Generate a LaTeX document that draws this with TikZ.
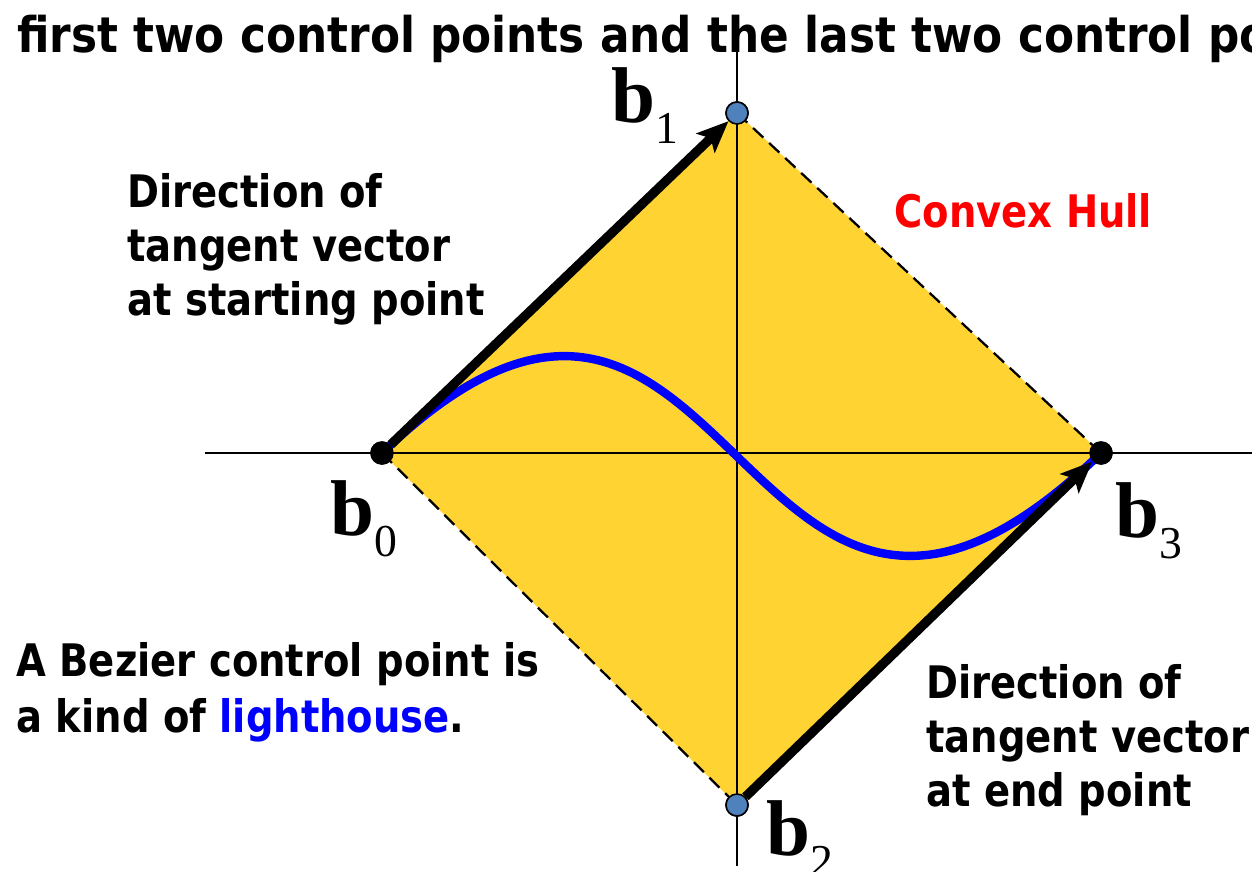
\documentclass[tikz,border=0pt]{standalone}
\usepackage{fontspec}
\usetikzlibrary{arrows.meta,positioning}
\setmainfont{Liberation Serif}
\newfontfamily\slidefont[FakeStretch=0.86]{DejaVu Sans}
\newfontfamily\headfont[FakeStretch=0.89]{DejaVu Sans}
\definecolor{hullyellow}{RGB}{255,212,50}
\definecolor{pointblue}{RGB}{79,129,189}
\definecolor{curveblue}{RGB}{0,0,255}
\definecolor{hullred}{RGB}{255,0,0}
\newcommand{\bvec}[1]{{\fontsize{45}{45}\selectfont\bfseries b}\raisebox{-12pt}{\fontsize{26}{26}\selectfont #1}}
\newlength{\linegap}
\setlength{\linegap}{1.09cm}

\begin{document}
\begin{tikzpicture}[x=0.02cm, y=-0.02cm,
	note/.style={anchor=base west, inner sep=0pt, font=\slidefont\bfseries\fontsize{25.5}{30}\selectfont},
	endpt/.style={circle, fill=black, inner sep=0pt, minimum size=0.47cm},
	ctrlpt/.style={circle, draw=black, line width=0.9pt, fill=pointblue, inner sep=0pt, minimum size=0.44cm},
	blabel/.style={anchor=base west, inner sep=0pt},
	tangent/.style={line width=5.3pt, -{Stealth[length=18pt, width=15pt, inset=4pt]}},
	hulledge/.style={line width=1.3pt, dash pattern=on 8pt off 4.5pt},
	axis/.style={line width=1.1pt}]
	\useasboundingbox (0,0) rectangle (1252,872);
	\clip (0,0) rectangle (1252,872);

	% Define nodes
	\node (b0) [endpt] at (382,453) {};
	\node (b1) [ctrlpt] at (737,113) {};
	\node (b2) [ctrlpt] at (737,805) {};
	\node (b3) [endpt] at (1101,453) {};
	\coordinate (xl) at (205,453);
	\coordinate (xr) at (1252,453);
	\coordinate (yt) at (737,28);
	\coordinate (yb) at (737,866);

	% Convex hull and axes
	\fill[hullyellow] (b0.center) -- (b1.center) -- (b3.center) -- (b2.center) -- cycle;
	\draw[axis] (xl) -- (xr);
	\draw[axis] (yt) -- (yb);
	\draw[hulledge] (b1.center) -- (b3.center);
	\draw[hulledge] (b0.center) -- (b2.center);

	% Bezier curve
	\draw[curveblue, line width=4.8pt] (b0.center) .. controls (b1.center) and (b2.center) .. (b3.center);

	% Tangent arrows
	\draw[tangent] (b0) -- (b1);
	\draw[tangent] (b2) -- (b3);

	% Redraw points on top
	\node[endpt] at (b0) {};
	\node[ctrlpt] at (b1) {};
	\node[ctrlpt] at (b2) {};
	\node[endpt] at (b3) {};

	% Point labels
	\node (lb0) [blabel] at (330,535) {\bvec{0}};
	\node (lb1) [blabel] at (611,122) {\bvec{1}};
	\node (lb2) [blabel] at (766,855) {\bvec{2}};
	\node (lb3) [blabel] at (1115,537) {\bvec{3}};

	% Texts
	\node (title) [note, font=\headfont\bfseries\fontsize{28}{32}\selectfont] at (17,52) {first two control points and the last two control points};
	\node (hull) [note, text=hullred] at (894,227) {Convex Hull};

	\node (startA) [note] at (127,207) {Direction of};
	\node (startB) [note] at ([yshift=-\linegap]startA.base west) {tangent vector};
	\node (startC) [note] at ([yshift=-\linegap]startB.base west) {at starting point};

	\node (endA) [note] at (926,698) {Direction of};
	\node (endB) [note] at ([yshift=-\linegap]endA.base west) {tangent vector};
	\node (endC) [note] at ([yshift=-\linegap]endB.base west) {at end point};

	\node (lightA) [note] at (16,676) {A Bezier control point is};
	\node (lightB) [note] at ([yshift=-1.13cm]lightA.base west) {a kind of \textcolor{curveblue}{lighthouse}.};
\end{tikzpicture}
\end{document}
